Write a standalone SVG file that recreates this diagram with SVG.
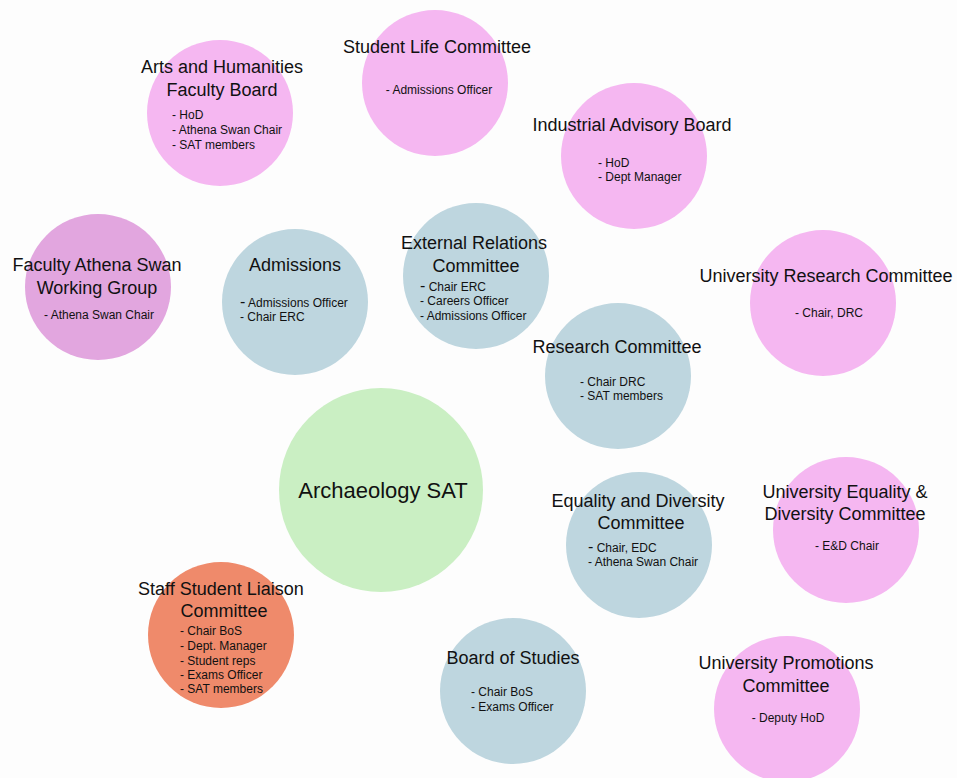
<svg xmlns="http://www.w3.org/2000/svg" width="957" height="778" viewBox="0 0 957 778">
  <style>
    .pink { fill: #f5b7f1; }
    .mauve { fill: #e2a6df; }
    .blue { fill: #bed6df; }
    .green { fill: #caefc3; }
    .orange { fill: #ef8a6b; }
    text { font-family: "Liberation Sans", Arial, sans-serif; fill: #111; }
    .title { font-size: 18px; text-anchor: middle; }
    .item { font-size: 12px; }
    .mid { text-anchor: middle; }
    .dash { font-size: 16px; }
    .big { font-size: 22px; text-anchor: middle; }
  </style>
  <rect width="957" height="778" fill="#fdfdfd"/>

  <!-- committees, each drawn as a filled circle with its name and members -->
  <g id="arts-humanities">
    <circle class="pink" cx="220" cy="113" r="73"/>
    <text class="title" x="222" y="73">Arts and Humanities</text>
    <text class="title" x="222" y="96">Faculty Board</text>
    <text class="item" x="172" y="119">- HoD</text>
    <text class="item" x="172" y="134">- Athena Swan Chair</text>
    <text class="item" x="172" y="149">- SAT members</text>
  </g>

  <g id="student-life">
    <circle class="pink" cx="435" cy="83" r="73"/>
    <text class="title" x="437" y="53">Student Life Committee</text>
    <text class="item mid" x="439" y="94">- Admissions Officer</text>
  </g>

  <g id="industrial-advisory">
    <circle class="pink" cx="634" cy="156" r="73"/>
    <text class="title" x="632" y="131">Industrial Advisory Board</text>
    <text class="item" x="598" y="167">- HoD</text>
    <text class="item" x="598" y="181">- Dept Manager</text>
  </g>

  <g id="faculty-athena-swan">
    <circle class="mauve" cx="98" cy="287" r="73"/>
    <text class="title" x="97" y="271">Faculty Athena Swan</text>
    <text class="title" x="97" y="294">Working Group</text>
    <text class="item mid" x="99" y="319">- Athena Swan Chair</text>
  </g>

  <g id="admissions">
    <circle class="blue" cx="295" cy="302" r="73"/>
    <text class="title" x="295" y="271">Admissions</text>
    <text class="item" x="240" y="307"><tspan class="dash">-</tspan> Admissions Officer</text>
    <text class="item" x="240" y="321">- Chair ERC</text>
  </g>

  <g id="external-relations">
    <circle class="blue" cx="476" cy="276" r="73"/>
    <text class="title" x="474" y="249">External Relations</text>
    <text class="title" x="476" y="272">Committee</text>
    <text class="item" x="420" y="291"><tspan class="dash">-</tspan> Chair ERC</text>
    <text class="item" x="420" y="305">- Careers Officer</text>
    <text class="item" x="420" y="320">- Admissions Officer</text>
  </g>

  <g id="university-research">
    <circle class="pink" cx="823" cy="303" r="73"/>
    <text class="title" x="826" y="282">University Research Committee</text>
    <text class="item mid" x="829" y="317">- Chair, DRC</text>
  </g>

  <g id="research-committee">
    <circle class="blue" cx="618" cy="376" r="73"/>
    <text class="title" x="617" y="353">Research Committee</text>
    <text class="item" x="580" y="386">- Chair DRC</text>
    <text class="item" x="580" y="400">- SAT members</text>
  </g>

  <g id="archaeology-sat">
    <circle class="green" cx="381" cy="490" r="102"/>
    <text class="big" x="383" y="498">Archaeology SAT</text>
  </g>

  <g id="equality-diversity">
    <circle class="blue" cx="639" cy="545" r="73"/>
    <text class="title" x="638" y="507">Equality and Diversity</text>
    <text class="title" x="641" y="529">Committee</text>
    <text class="item" x="588" y="552"><tspan class="dash">-</tspan> Chair, EDC</text>
    <text class="item" x="588" y="566">- Athena Swan Chair</text>
  </g>

  <g id="university-equality-diversity">
    <circle class="pink" cx="846" cy="530" r="73"/>
    <text class="title" x="845" y="498">University Equality &amp;</text>
    <text class="title" x="845" y="520">Diversity Committee</text>
    <text class="item mid" x="847" y="550">- E&amp;D Chair</text>
  </g>

  <g id="staff-student-liaison">
    <circle class="orange" cx="221" cy="635" r="73"/>
    <text class="title" x="221" y="595">Staff Student Liaison</text>
    <text class="title" x="224" y="617">Committee</text>
    <text class="item" x="180" y="635">- Chair BoS</text>
    <text class="item" x="180" y="650">- Dept. Manager</text>
    <text class="item" x="180" y="665">- Student reps</text>
    <text class="item" x="180" y="679">- Exams Officer</text>
    <text class="item" x="180" y="693">- SAT members</text>
  </g>

  <g id="board-of-studies">
    <circle class="blue" cx="513" cy="691" r="73"/>
    <text class="title" x="513" y="664">Board of Studies</text>
    <text class="item" x="471" y="696">- Chair BoS</text>
    <text class="item" x="471" y="711">- Exams Officer</text>
  </g>

  <g id="university-promotions">
    <circle class="pink" cx="787" cy="709" r="73"/>
    <text class="title" x="786" y="669">University Promotions</text>
    <text class="title" x="786" y="692">Committee</text>
    <text class="item mid" x="788" y="722">- Deputy HoD</text>
  </g>

  <!-- the committees are laid out without connecting lines -->
  <g id="connectors"/>
</svg>
